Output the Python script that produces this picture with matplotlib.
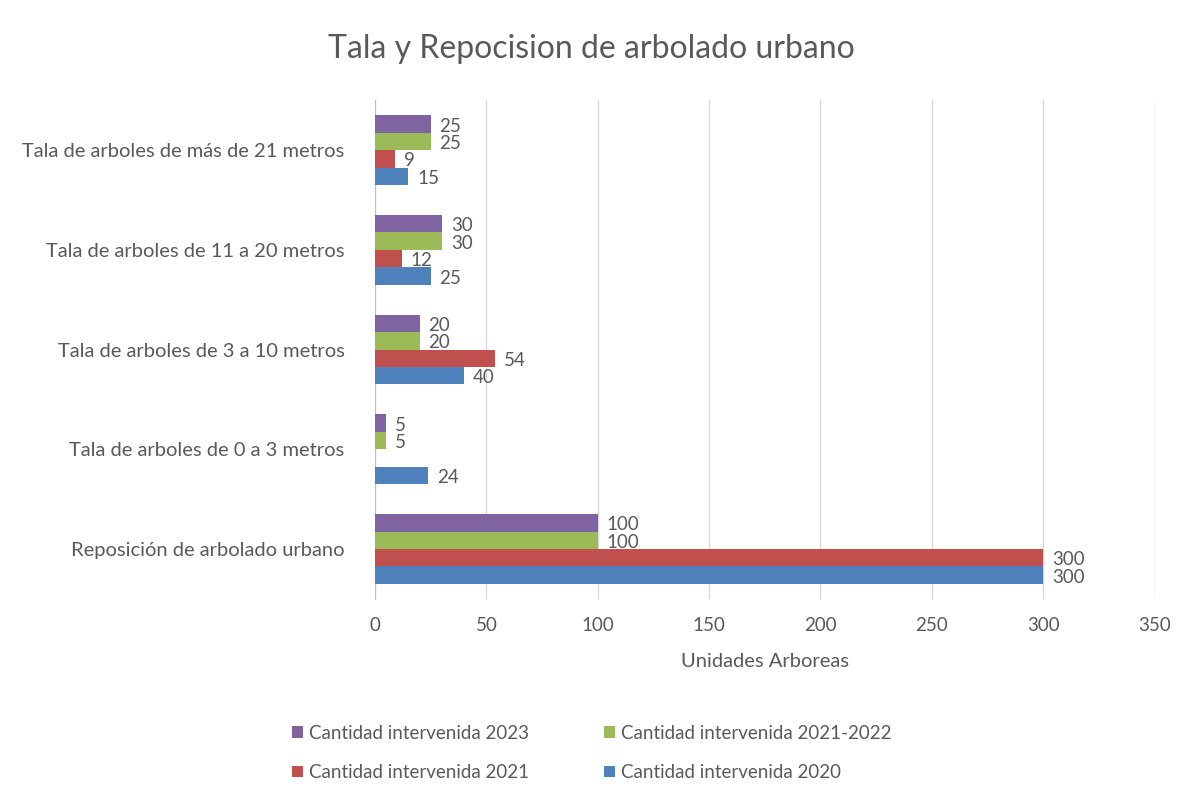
import numpy as np
import matplotlib
matplotlib.use('Agg')
import matplotlib.pyplot as plt

plt.rcParams['font.family'] = ['Lato', 'DejaVu Sans']

# Datos (de abajo hacia arriba)
categorias = ['Reposición de arbolado urbano',
              'Tala de arboles de 0 a 3 metros',
              'Tala de arboles de 3 a 10 metros',
              'Tala de arboles de 11 a 20 metros',
              'Tala de arboles de más de 21 metros']
cant_2020 = [300, 24, 40, 25, 15]
cant_2021 = [300, np.nan, 54, 12, 9]
cant_2021_2022 = [100, 5, 20, 30, 25]
cant_2023 = [100, 5, 20, 30, 25]

series = [('Cantidad intervenida 2020', cant_2020, '#4F81BD'),
          ('Cantidad intervenida 2021', cant_2021, '#C0504D'),
          ('Cantidad intervenida 2021-2022', cant_2021_2022, '#9BBB59'),
          ('Cantidad intervenida 2023', cant_2023, '#8064A2')]

gris = '#595959'
fig = plt.figure(figsize=(11.83, 7.9), dpi=100)
ax = fig.add_axes([0.317, 0.242, 0.659, 0.631])

y = np.arange(len(categorias))
alto = 0.175
barras = {}
for i, (nombre, valores, color) in enumerate(series):
    pos = y + (i - 1.5) * alto
    vals = np.array(valores, dtype=float)
    b = ax.barh(pos, np.nan_to_num(vals), height=alto, color=color, label=nombre, zorder=3)
    barras[nombre] = b
    for p, v in zip(pos, vals):
        if np.isnan(v):
            continue
        ax.text(v + 4, p - 0.02, f'{int(v)}', va='center', ha='left', fontsize=13.5, color=gris, zorder=4)

ax.set_xlim(0, 350)
ax.set_ylim(-0.5, len(categorias) - 0.5)
ax.set_xticks(range(0, 351, 50))
ax.set_yticks(y)
ax.set_yticklabels(categorias)
ax.xaxis.grid(True, color='#D9D9D9', linewidth=1, zorder=0)
for s in ['top', 'right', 'bottom']:
    ax.spines[s].set_visible(False)
ax.spines['left'].set_color('#BFBFBF')
ax.tick_params(axis='both', length=0, labelsize=13.5, labelcolor=gris)
ax.tick_params(axis='y', labelsize=14.5, pad=22)
ax.tick_params(axis='x', pad=13)
ax.set_xlabel('Unidades Arboreas', fontsize=14.5, color=gris, labelpad=14)

fig.text(0.5, 0.938, 'Tala y Repocision de arbolado urbano', ha='center', va='center', fontsize=23, color=gris)

orden = ['Cantidad intervenida 2023', 'Cantidad intervenida 2021',
         'Cantidad intervenida 2021-2022', 'Cantidad intervenida 2020']
fig.legend([barras[n] for n in orden], orden, ncol=2, loc='center', bbox_to_anchor=(0.5, 0.047),
           frameon=False, fontsize=13.5, labelcolor=gris, handlelength=0.6, handleheight=0.6,
           handletextpad=0.3, columnspacing=4, labelspacing=1.2)

fig.savefig('out.png', dpi=100)
